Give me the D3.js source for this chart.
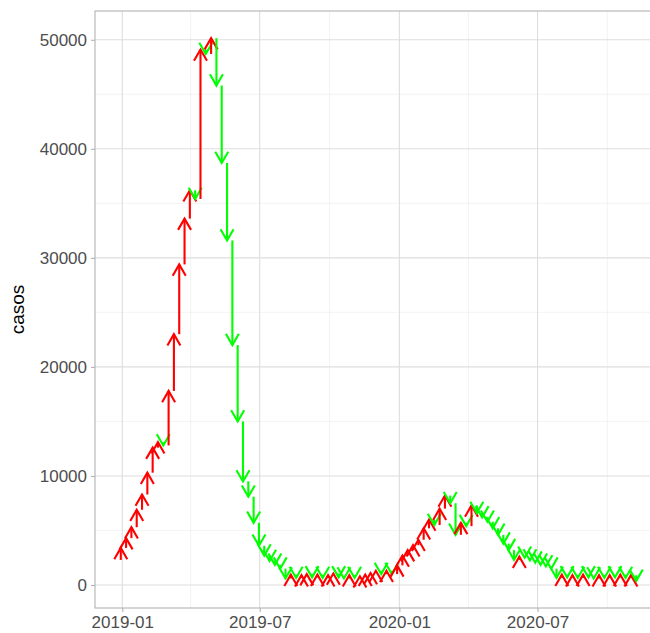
<!DOCTYPE html>
<html>
<head>
<meta charset="utf-8">
<script src="https://cdn.jsdelivr.net/npm/d3@7"></script>
<style>
  body { margin: 0; background: #fff; }
  text { font-family: "Liberation Sans", Arial, sans-serif; }
</style>
</head>
<body>
<svg id="casos" width="650" height="633"></svg>
<script>
// weekly cases; first value is only the start of the first arrow
const firstWeek = "2018-12-23";
const casos = [
  2300,
  3400, 4300, 5300, 6900, 8300, 10300, 12600, 13100, 12800, 17800,
  23000, 29400, 33600, 36200, 35400, 49100, 48700, 50150, 45800, 38700,
  31600, 22000, 15000, 9500, 8100, 5700, 3600, 2700, 2200, 1850,
  1500, 600, 950, 650, 900, 1000, 700, 950, 650, 900,
  1050, 700, 600, 900, 650, 800, 950, 1100, 1300, 1000,
  1300, 1000, 1800, 2700, 3200, 3650, 4150, 5200, 6000, 5500,
  7000, 8200, 7500, 4600, 5700, 5400, 7300, 6600, 6200, 5800,
  5200, 4600, 3800, 3200, 2300, 2600, 2500, 2250, 2050, 1850,
  1700, 1500, 650, 950, 700, 900, 650, 950, 700, 600,
  900, 650, 900, 700, 950, 650, 900, 380
];
const xTicks = ["2019-01-01", "2019-07-01", "2020-01-01", "2020-07-01"];
const xMinor = ["2019-04-01", "2019-10-01", "2020-04-01", "2020-10-01"];
const yTicks = [0, 10000, 20000, 30000, 40000, 50000];
const yMinor = [5000, 15000, 25000, 35000, 45000];

let parse = d3.timeParse("%Y-%m-%d"),
    fmt = d3.timeFormat("%Y-%m");

let svg = d3.select("#casos"),
    margin = {top: 11, right: -12, bottom: 25, left: 95},
    width = svg.attr("width") - margin.left - margin.right,
    height = svg.attr("height") - margin.top - margin.bottom,
    g = svg.append("g").attr("transform", "translate(" + margin.left + "," + margin.top + ")");

// build arrows: one per week, from previous week's value to this week's
let start = parse(firstWeek);
let data = [];
for (let i = 1; i < casos.length; i++) {
  data.push({
    fecha: d3.timeWeek.offset(start, i),
    y0: casos[i - 1],
    y1: casos[i]
  });
}

// scales with ggplot-like 5% expansion
let xExt = d3.extent(data, d => d.fecha),
    xPad = (xExt[1] - xExt[0]) * 0.05,
    yExt = [d3.min(data, d => Math.min(d.y0, d.y1)), d3.max(data, d => Math.max(d.y0, d.y1))],
    yPad = (yExt[1] - yExt[0]) * 0.05;

let x = d3.scaleTime()
    .domain([new Date(+xExt[0] - xPad), new Date(+xExt[1] + xPad)])
    .range([0, width]);
let y = d3.scaleLinear()
    .domain([yExt[0] - yPad, yExt[1] + yPad])
    .range([height, 0]);

// grid
g.selectAll(".yminor").data(yMinor).enter().append("line")
    .attr("x1", 0).attr("x2", width)
    .attr("y1", d => y(d)).attr("y2", d => y(d))
    .style("stroke", "#ebebeb").style("stroke-width", 0.6);
g.selectAll(".xminor").data(xMinor.map(parse)).enter().append("line")
    .attr("y1", 0).attr("y2", height)
    .attr("x1", d => x(d)).attr("x2", d => x(d))
    .style("stroke", "#ebebeb").style("stroke-width", 0.6);
g.selectAll(".ymajor").data(yTicks).enter().append("line")
    .attr("x1", 0).attr("x2", width)
    .attr("y1", d => y(d)).attr("y2", d => y(d))
    .style("stroke", "#dedede").style("stroke-width", 1.1);
g.selectAll(".xmajor").data(xTicks.map(parse)).enter().append("line")
    .attr("y1", 0).attr("y2", height)
    .attr("x1", d => x(d)).attr("x2", d => x(d))
    .style("stroke", "#dedede").style("stroke-width", 1.1);

// axes
let xAxis = g.append("g")
    .attr("class", "x-axis")
    .attr("transform", "translate(0," + height + ")")
    .call(d3.axisBottom(x).tickValues(xTicks.map(parse)).tickFormat(fmt).tickSize(4).tickPadding(4));
let yAxis = g.append("g")
    .attr("class", "y-axis")
    .call(d3.axisLeft(y).tickValues(yTicks).tickFormat(d3.format("d")).tickSize(4).tickPadding(4));
[xAxis, yAxis].forEach(a => {
  a.select(".domain").remove();
  a.selectAll(".tick line").style("stroke", "#b3b3b3").style("stroke-width", 1.1);
  a.selectAll(".tick text").style("fill", "#4d4d4d").style("font-size", "17px");
});

// arrows
let L = 13, ang = Math.PI / 6;
let arrows = g.selectAll(".arrow").data(data).enter().append("g")
    .style("stroke", d => d.y1 > d.y0 ? "#ff0000" : "#00ff00")
    .style("stroke-width", 2.1)
    .style("fill", "none");
arrows.append("line")
    .attr("x1", d => x(d.fecha)).attr("x2", d => x(d.fecha))
    .attr("y1", d => y(d.y0)).attr("y2", d => y(d.y1));
arrows.append("path")
    .style("stroke-linejoin", "miter")
    .attr("d", d => {
      let px = x(d.fecha), py = y(d.y1),
          dir = d.y1 > d.y0 ? 1 : -1,
          dx = L * Math.sin(ang), dy = L * Math.cos(ang) * dir;
      return "M" + (px - dx) + "," + (py + dy) + "L" + px + "," + py + "L" + (px + dx) + "," + (py + dy);
    });

// panel border
g.append("rect")
    .attr("width", width).attr("height", height)
    .style("fill", "none").style("stroke", "#b3b3b3").style("stroke-width", 1.1);

// y title
svg.append("text")
    .attr("transform", "translate(24," + (margin.top + height / 2) + ") rotate(-90)")
    .attr("text-anchor", "middle")
    .style("font-size", "19px")
    .style("fill", "#000")
    .text("casos");
</script>
</body>
</html>
